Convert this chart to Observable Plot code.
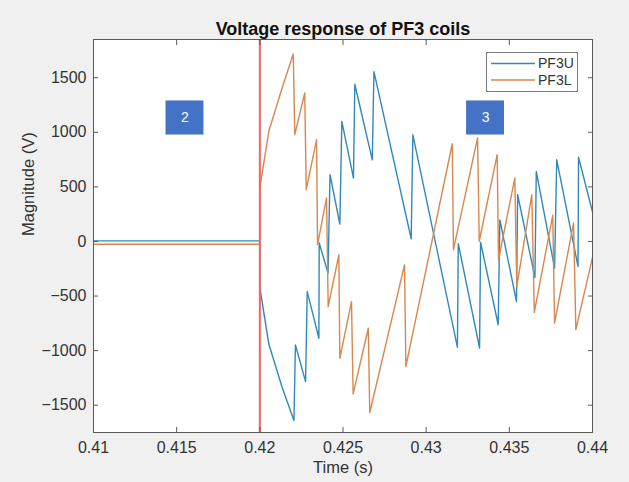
<!DOCTYPE html>
<html><head><meta charset="utf-8">
<script src="https://cdn.jsdelivr.net/npm/d3@7"></script>
<script src="https://cdn.jsdelivr.net/npm/@observablehq/plot@0.6"></script>
<style>html,body{margin:0;padding:0;background:#f0f0f0;overflow:hidden;}</style>
</head><body><div id="chart"></div>
<script>
// ---- data ----
const seriesNames = ["PF3U", "PF3L"];
const seriesColors = ["#3189ba", "#d7874f"];

const pf3uTime = [0.41, 0.42, 0.42, 0.42054, 0.42134, 0.42205, 0.42214, 0.42275, 0.42285, 0.42355,
  0.42357, 0.42410, 0.42422, 0.42481, 0.42493, 0.42563, 0.42571, 0.42676, 0.42686, 0.42910,
  0.42920, 0.43188, 0.43193, 0.43321, 0.43327, 0.43433, 0.43443, 0.43543, 0.43550, 0.43654,
  0.43662, 0.43772, 0.43785, 0.43913, 0.43916, 0.44];
const pf3uVolt = [5, 5, -420, -940, -1335, -1640, -948, -1284, -459, -887,
  -14, -290, 612, 160, 1100, 580, 1440, 748, 1556, 25,
  977, -970, -20, -976, -7, -763, 198, -550, 428, -330,
  641, -244, 748, -229, 771, 270];

const pf3lTime = [0.41, 0.42, 0.42, 0.42054, 0.42134, 0.42201, 0.42210, 0.42270, 0.42279, 0.42341,
  0.42347, 0.42401, 0.42411, 0.42475, 0.42481, 0.42551, 0.42561, 0.42652, 0.42661, 0.42870,
  0.42878, 0.43157, 0.43164, 0.43309, 0.43319, 0.43427, 0.43435, 0.43533, 0.43545, 0.43635,
  0.43650, 0.43761, 0.43772, 0.43886, 0.43900, 0.44];
const pf3lVolt = [-25, -25, 490, 1009, 1405, 1717, 978, 1360, 475, 932,
  -29, 398, -597, -124, -1070, -551, -1397, -795, -1567, -215,
  -1145, 895, -75, 948, 2, 795, -167, 581, -412, 429,
  -650, 240, -747, 169, -808, -145];

const xTicks = [0.41, 0.415, 0.42, 0.425, 0.43, 0.435, 0.44];
const yTicks = [-1500, -1000, -500, 0, 500, 1000, 1500];
const eventTime = [0.42];

const phaseLabels = ["2", "3"];
const phaseStart = [0.41436, 0.43243];
const phaseEnd = [0.41664, 0.43471];
const phaseLow = [975, 975];
const phaseHigh = [1287, 1287];

const titleText = "Voltage response of PF3 coils";
const xLabel = "Time (s)";
const yLabel = "Magnitude (V)";

// ---- tables ----
const rows = [
  ...pf3uTime.map((t, i) => ({t, v: pf3uVolt[i], s: seriesNames[0]})),
  ...pf3lTime.map((t, i) => ({t, v: pf3lVolt[i], s: seriesNames[1]}))
];
const phases = phaseLabels.map((label, i) => ({label, t0: phaseStart[i], t1: phaseEnd[i], v0: phaseLow[i], v1: phaseHigh[i]}));

const font = "'Liberation Sans', Arial, Helvetica, sans-serif";
const axisColor = "#5a5a5a";
const fmtY = d => d < 0 ? "\u2212" + Math.abs(d) : String(d);

const plot = Plot.plot({
  width: 629, height: 482,
  marginLeft: 93, marginRight: 37, marginTop: 39, marginBottom: 50,
  style: {background: "#f0f0f0", fontFamily: font, fontSize: "16px", color: "#333", overflow: "visible"},
  x: {domain: [0.41, 0.44]},
  y: {domain: [-1750, 1850]},
  color: {domain: seriesNames, range: seriesColors},
  marks: [
    Plot.frame({fill: "white", stroke: null}),
    Plot.line(rows, {x: "t", y: "v", z: "s", stroke: "s", strokeWidth: 1.4, strokeLinejoin: "round"}),
    Plot.ruleX(eventTime, {stroke: "#f06464", strokeWidth: 2}),
    Plot.rect(phases, {x1: "t0", x2: "t1", y1: "v0", y2: "v1", fill: "#4472c4"}),
    Plot.text(phases, {x: d => (d.t0 + d.t1) / 2, y: d => (d.v0 + d.v1) / 2, text: "label", fill: "white", fontSize: 14}),
    // inward ticks on all four sides
    Plot.axisX(xTicks, {anchor: "bottom", tickSize: 5, dy: -5, fill: "none", label: null, stroke: axisColor}),
    Plot.axisX(xTicks, {anchor: "top", tickSize: 5, dy: 5, fill: "none", label: null, stroke: axisColor}),
    Plot.axisY(yTicks, {anchor: "left", tickSize: 5, dx: 5, fill: "none", label: null, stroke: axisColor}),
    Plot.axisY(yTicks, {anchor: "right", tickSize: 5, dx: -5, fill: "none", label: null, stroke: axisColor}),
    // tick labels
    Plot.axisX(xTicks, {anchor: "bottom", tickSize: 0, tickPadding: 9, tickFormat: d => String(d), label: null, fontSize: 16, fill: "#333"}),
    Plot.axisY(yTicks, {anchor: "left", tickSize: 0, tickPadding: 7, tickFormat: fmtY, label: null, fontSize: 16, fill: "#333"}),
    Plot.frame({stroke: axisColor, strokeWidth: 1}),
    // titles
    Plot.text([titleText], {frameAnchor: "top", dy: -17, fontWeight: "bold", fontSize: 18, fill: "#111"}),
    Plot.text([xLabel], {frameAnchor: "bottom", dy: 40, fontSize: 16.5, fill: "#333"}),
    Plot.text([yLabel], {frameAnchor: "left", dx: -65, rotate: -90, fontSize: 16.5, fill: "#333"})
  ]
});

// legend box (northeast, inside the axes)
const svg = d3.select(plot);
const lg = svg.append("g").attr("font-family", font).attr("font-size", 14).attr("text-anchor", "start");
lg.append("rect").attr("x", 486.5).attr("y", 52.5).attr("width", 91).attr("height", 39)
  .attr("fill", "white").attr("stroke", "#777");
seriesNames.forEach((name, i) => {
  const yy = 63.5 + i * 16.5;
  lg.append("line").attr("x1", 491).attr("x2", 535).attr("y1", yy).attr("y2", yy)
    .attr("stroke", seriesColors[i]).attr("stroke-width", 1.4);
  lg.append("text").attr("x", 538).attr("y", yy).attr("dy", "0.35em").attr("fill", "#333").text(name);
});

document.getElementById("chart").appendChild(plot);
</script>
</body></html>
